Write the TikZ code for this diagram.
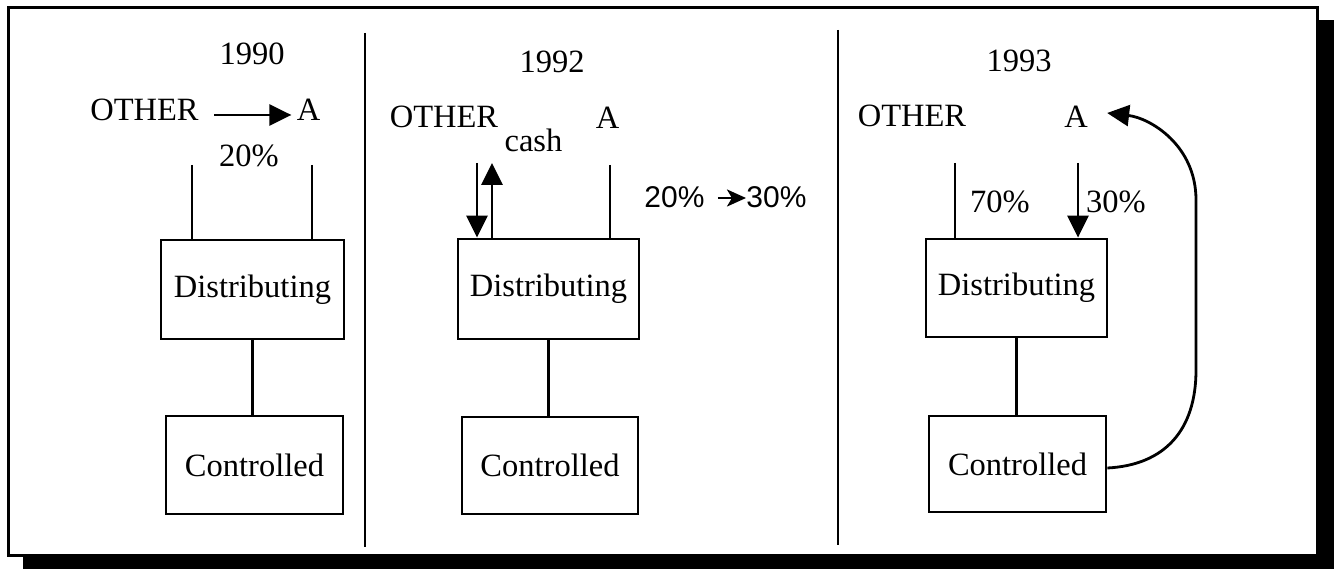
\documentclass[tikz,border=0pt]{standalone}
\usepackage{fontspec}
\setmainfont{Liberation Serif}
\newfontfamily\sansf{Liberation Sans}
\usetikzlibrary{arrows.meta,calc}
\begin{document}
\begin{tikzpicture}[x=1pt,y=-1pt,
  line width=2.8pt,
  lbl/.style={inner sep=0pt,anchor=base,font=\fontsize{32.5}{38}\selectfont},
  sanslbl/.style={inner sep=0pt,anchor=base west,font=\sansf\fontsize{30}{36}\selectfont},
  unit/.style={draw,line width=2.8pt,inner sep=0pt,font=\fontsize{32.5}{38}\selectfont},
  bigtip/.style={-{Triangle[length=22pt,width=21pt]}},
  rule/.style={line width=2.6pt}]
\useasboundingbox (0,0) rectangle (1334,569);
% drop shadow and frame
\fill[black] (23,20) rectangle (1334,569);
\draw[fill=white,line width=3pt] (8,8) rectangle (1317,555);
% panel dividers
\draw[rule] (365,33) -- (365,547);
\draw[rule] (838,30) -- (838,545);

% ---------- 1990 ----------
\node[lbl] (y1) at (252,65) {1990};
\node[lbl] (o1) at (144.5,121) {OTHER};
\node[lbl] (a1) at (308.5,121) {A};
\node[lbl] (p1) at (249,167) {20\%};
\node[unit,minimum width=183pt,minimum height=99pt] (d1) at (252.5,289.5) {Distributing};
\node[unit,minimum width=177pt,minimum height=98pt] (c1) at (254.5,465) {Controlled};
\draw[bigtip] ($(o1.base east)+(14,-6)$) -- ($(a1.base west)+(-4,-6)$);
\coordinate (t1a) at (192,165);
\coordinate (t1b) at (312,165);
\draw (t1a) -- (t1a |- d1.north);
\draw (t1b) -- (t1b |- d1.north);
\draw (d1.south) -- (d1.south |- c1.north);

% ---------- 1992 ----------
\node[lbl] (y2) at (552,73) {1992};
\node[lbl] (o2) at (444,128) {OTHER};
\node[lbl] (k2) at (533.5,152) {cash};
\node[lbl] (a2) at (607.5,129) {A};
\node[sanslbl] (q2) at (643,208) {20\%};
\node[sanslbl] (r2) at (745,208) {30\%};
\draw[line width=2.6pt,-{Stealth[length=19pt,width=17pt,inset=5pt]}] ($(q2.base east)+(12,-10)$) -- ($(r2.base west)+(1,-10)$);
\node[unit,minimum width=181pt,minimum height=100pt] (d2) at (548.5,289) {Distributing};
\node[unit,minimum width=176pt,minimum height=97pt] (c2) at (550,465.5) {Controlled};
\coordinate (t2a) at (477,163);
\coordinate (t2b) at (492,163);
\coordinate (t2c) at (610,165);
\draw[bigtip] (t2a) -- (t2a |- d2.north);
\draw[bigtip] (t2b |- d2.north) -- (t2b);
\draw (t2c) -- (t2c |- d2.north);
\draw (d2.south) -- (d2.south |- c2.north);

% ---------- 1993 ----------
\node[lbl] (y3) at (1019,72) {1993};
\node[lbl] (o3) at (912,127) {OTHER};
\node[lbl] (a3) at (1076,128) {A};
\node[lbl] (p3) at (1000,213) {70\%};
\node[lbl] (s3) at (1116,213) {30\%};
\node[unit,minimum width=181pt,minimum height=98pt] (d3) at (1016.5,288) {Distributing};
\node[unit,minimum width=177pt,minimum height=96pt] (c3) at (1017.5,464) {Controlled};
\coordinate (t3a) at (955,163);
\coordinate (t3b) at (1078,163);
\draw (t3a) -- (t3a |- d3.north);
\draw[bigtip] (t3b) -- (t3b |- d3.north);
\draw (d3.south) -- (d3.south |- c3.north);
\coordinate (tip3) at ($(a3.base east)+(18,-15)$);
\draw[bigtip] ([yshift=-4pt]c3.east) .. controls (1165,465) and (1196,430) .. (1196,370)
  -- (1196,200) .. controls (1196,145) and (1150,118) .. (tip3);
\end{tikzpicture}
\end{document}
